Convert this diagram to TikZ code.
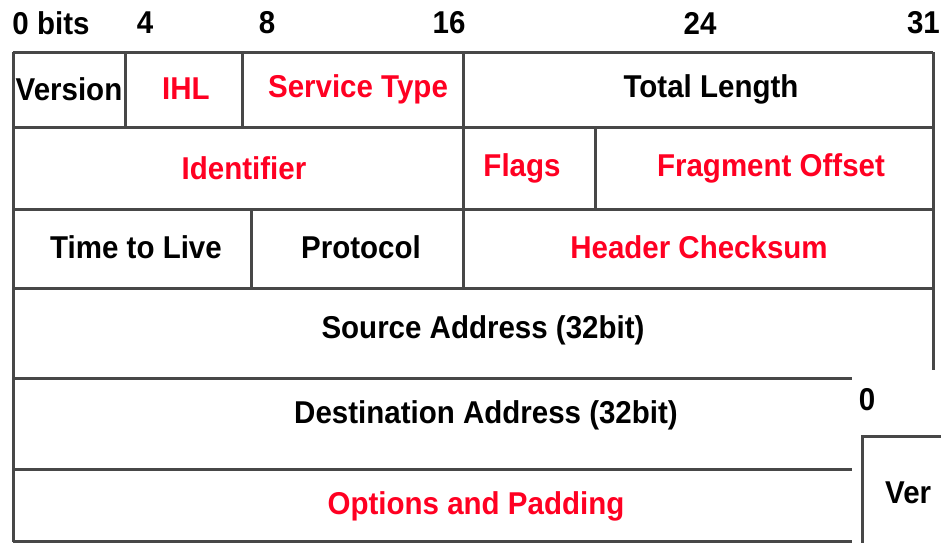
\documentclass[tikz,border=0pt]{standalone}
\usepackage{fontspec}
\setmainfont{Liberation Sans}
\usepackage{graphicx}
\definecolor{gridc}{HTML}{474747}
\definecolor{redt}{HTML}{FF0022}
\newcommand{\tx}[1]{\scalebox{1}[1.07]{#1}}
\begin{document}
\begin{tikzpicture}[x=1pt,y=-1pt,
  gl/.style={draw=gridc,line width=3pt},
  lbl/.style={font=\fontsize{29.5}{31}\selectfont\bfseries,inner sep=0pt,text=black},
  rlbl/.style={lbl,text=redt}]
\useasboundingbox (0,0) rectangle (941,542);
\clip (0,0) rectangle (941,542);
% header bit labels
\node[lbl] (b0) at (51,23) {\tx{0 bits}};
\node[lbl] (b4) at (145,23) {\tx{4}};
\node[lbl] (b8) at (267,23) {\tx{8}};
\node[lbl] (b16) at (449,23) {\tx{16}};
\node[lbl] (b24) at (700,23) {\tx{24}};
\node[lbl,anchor=east] (b31) at (940,23) {\tx{31}};
% grid
\draw[gl] (13,52) -- (933,52);
\draw[gl] (13,127) -- (933,127);
\draw[gl] (13,209) -- (933,209);
\draw[gl] (13,288) -- (933,288);
\draw[gl] (13,378) -- (852,378);
\draw[gl] (13,469) -- (852,469);
\draw[gl] (13,541) -- (852,541);
\draw[gl] (13,52) -- (13,542);
\draw[gl] (933,52) -- (933,370);
\draw[gl] (125,52) -- (125,127);
\draw[gl] (242,52) -- (242,127);
\draw[gl] (463,52) -- (463,288);
\draw[gl] (595,127) -- (595,209);
\draw[gl] (251,209) -- (251,288);
% fields
\node[lbl] (ver) at (69,89) {\tx{Version}};
\node[rlbl] (ihl) at (186,89) {\tx{IHL}};
\node[rlbl] (tos) at (358,89) {\tx{Service Type}};
\node[lbl] (len) at (711,89) {\tx{Total Length}};
\node[rlbl] (id) at (244,168) {\tx{Identifier}};
\node[rlbl] (flg) at (522,168) {\tx{Flags}};
\node[rlbl] (frag) at (771,168) {\tx{Fragment Offset}};
\node[lbl] (ttl) at (136,247) {\tx{Time to Live}};
\node[lbl] (proto) at (361,247) {\tx{Protocol}};
\node[rlbl] (chk) at (699,247) {\tx{Header Checksum}};
\node[lbl] (src) at (483,330) {\tx{Source Address (32bit)}};
\node[lbl] (dst) at (486,415) {\tx{Destination Address (32bit)}};
\node[rlbl] (opt) at (476,506) {\tx{Options and Padding}};
% overlapping fragment bottom right
\node[lbl] (z0) at (867,400) {\tx{0}};
\draw[gl] (990,436) -- (862,436) -- (862,545);
\node[lbl,anchor=west] (ver2) at (885,493) {\tx{Ver}};
\end{tikzpicture}
\end{document}
